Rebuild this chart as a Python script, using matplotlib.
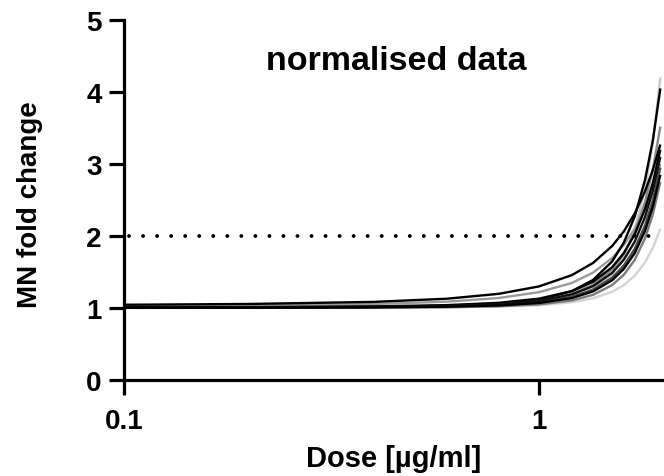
import matplotlib
matplotlib.use("Agg")
import matplotlib.pyplot as plt

plt.rcParams['font.family'] = ['Liberation Sans', 'DejaVu Sans']
plt.rcParams['font.weight'] = 'bold'

dose = [0.1, 0.2, 0.4, 0.6, 0.8, 1.0, 1.2, 1.35, 1.5, 1.6, 1.7, 1.8, 1.88, 1.96]

curve_1 = [1.045, 1.056, 1.085, 1.129, 1.197, 1.300, 1.457, 1.627, 1.861, 2.063, 2.312, 2.620, 2.918, 3.270]
curve_2 = [1.028, 1.035, 1.055, 1.088, 1.139, 1.220, 1.348, 1.492, 1.695, 1.874, 2.100, 2.384, 2.664, 3.000]
curve_3 = [1.006, 1.008, 1.016, 1.031, 1.061, 1.120, 1.235, 1.390, 1.647, 1.907, 2.270, 2.779, 3.329, 4.050]
curve_4 = [1.001, 1.002, 1.005, 1.011, 1.026, 1.060, 1.137, 1.256, 1.476, 1.720, 2.090, 2.649, 3.297, 4.200]
curve_5 = [1.005, 1.007, 1.013, 1.026, 1.051, 1.100, 1.196, 1.324, 1.537, 1.751, 2.052, 2.472, 2.926, 3.520]
curve_6 = [1.009, 1.012, 1.022, 1.040, 1.072, 1.130, 1.234, 1.365, 1.567, 1.762, 2.023, 2.373, 2.738, 3.200]
curve_7 = [1.006, 1.008, 1.015, 1.028, 1.053, 1.100, 1.189, 1.303, 1.488, 1.670, 1.921, 2.264, 2.629, 3.100]
curve_8 = [1.004, 1.006, 1.011, 1.021, 1.041, 1.080, 1.156, 1.256, 1.422, 1.589, 1.821, 2.145, 2.494, 2.950]
curve_9 = [1.003, 1.005, 1.009, 1.018, 1.035, 1.070, 1.138, 1.231, 1.385, 1.542, 1.762, 2.072, 2.408, 2.850]
curve_10 = [1.002, 1.003, 1.005, 1.011, 1.024, 1.050, 1.105, 1.183, 1.319, 1.461, 1.668, 1.968, 2.301, 2.750]
curve_11 = [1.002, 1.003, 1.005, 1.010, 1.020, 1.040, 1.080, 1.134, 1.225, 1.317, 1.448, 1.633, 1.835, 2.100]

curves = [curve_11, curve_4, curve_10, curve_2, curve_5, curve_8,
          curve_1, curve_3, curve_6, curve_7, curve_9]
colors = ['#d4d4d4', '#c8c8c8', '#7a7a7a', '#9a9a9a', '#8a8a8a', '#4a4a4a',
          '#000000', '#000000', '#000000', '#111111', '#000000']

threshold = 2
x_ticks = [0.1, 1]
x_ticklabels = ['0.1', '1']
y_ticks = [0, 1, 2, 3, 4, 5]

fig = plt.figure(figsize=(6.64, 4.77), dpi=100)
ax = fig.add_axes([124/664, 1 - 381/477, 1 - 124/664, (381 - 21)/477])

for ys, c in zip(curves, colors):
    ax.plot(dose, ys, color=c, lw=1.7, solid_capstyle='butt', clip_on=False)

ax.axhline(threshold, xmin=0.01, xmax=0.99, color='black', lw=2.8,
           linestyle=(0, (0.01, 3.6)), dash_capstyle='round')

ax.set_xscale('log')
ax.set_xlim(0.1, 2.0)
ax.set_ylim(0, 5)
ax.set_xticks(x_ticks)
ax.set_xticklabels(x_ticklabels)
ax.xaxis.set_minor_locator(matplotlib.ticker.NullLocator())
ax.set_yticks(y_ticks)

for s in ['top', 'right']:
    ax.spines[s].set_visible(False)
for s in ['left', 'bottom']:
    ax.spines[s].set_linewidth(2.3)
    ax.spines[s].set_capstyle('projecting')

ax.tick_params(axis='both', which='major', length=11, width=2.3, labelsize=20, pad=5)
ax.tick_params(axis='x', pad=9)
for lab in ax.get_xticklabels() + ax.get_yticklabels():
    lab.set_fontweight('bold')

ax.text(0.505, 0.888, 'normalised data', transform=ax.transAxes, ha='center', va='center',
        fontsize=24.5, fontweight='bold')
ax.set_ylabel('MN fold change', fontsize=20, fontweight='bold', va='center', ha='center')
ax.yaxis.set_label_coords(-(124 - 30)/540, (381 - 205)/360)
ax.set_xlabel('Dose [µg/ml]', fontsize=21, fontweight='bold', va='center', ha='center')
ax.xaxis.set_label_coords((394 - 124)/540, -(459 - 381)/360)

fig.savefig('out.png', dpi=100)
